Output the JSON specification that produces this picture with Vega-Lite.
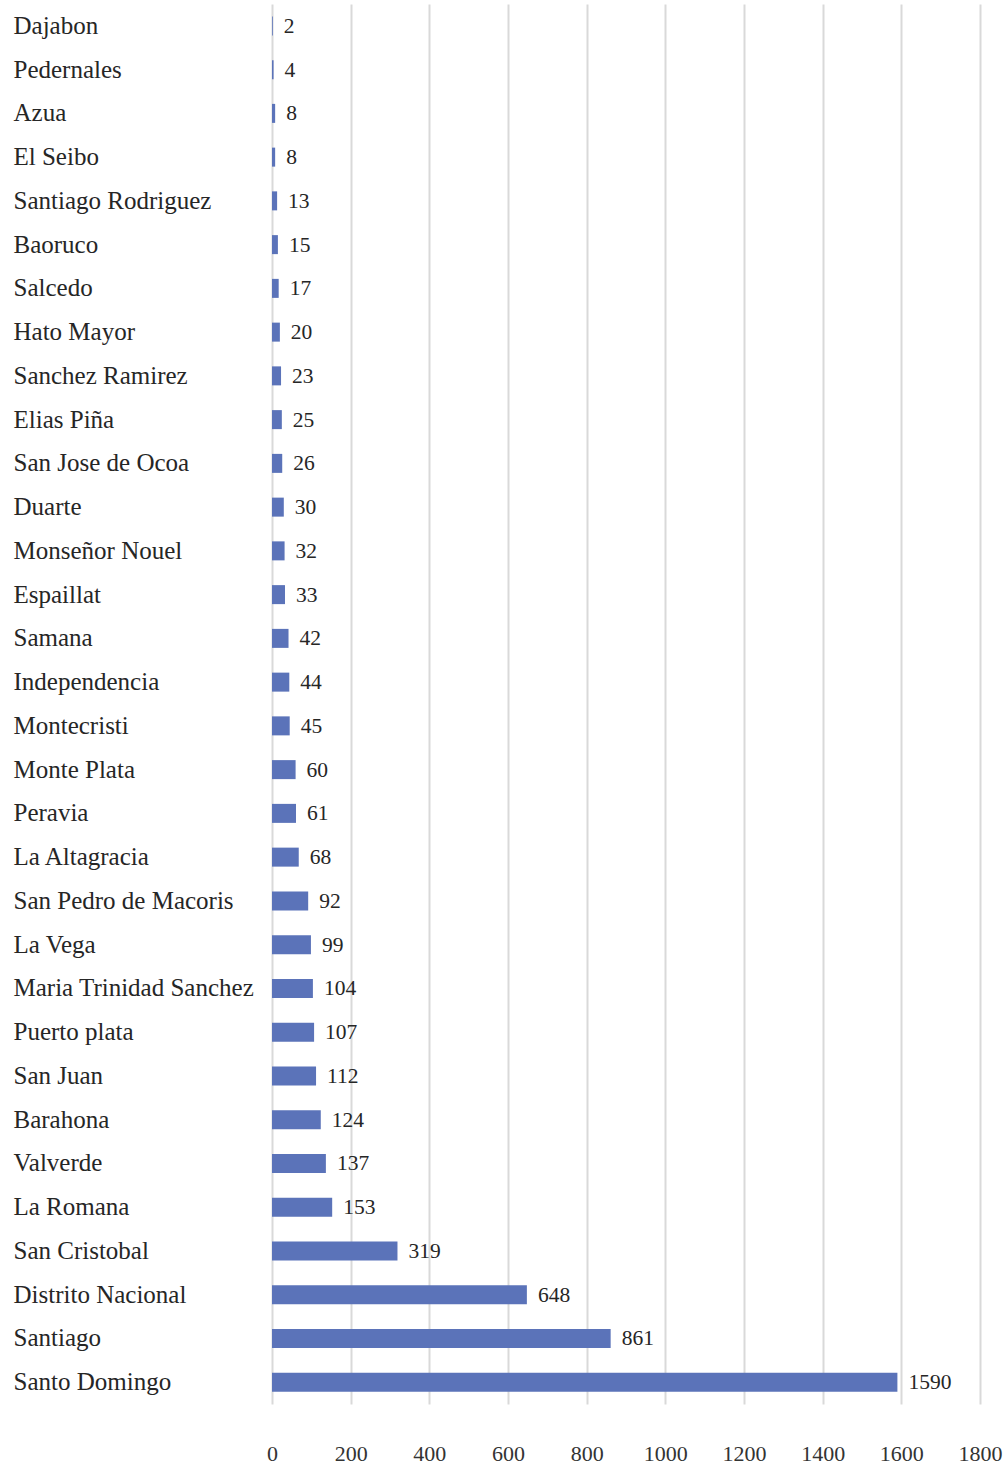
{
  "$schema": "https://vega.github.io/schema/vega-lite/v6.json",
  "autosize": {"type": "none"},
  "padding": {"left": 272, "top": 4, "right": 27, "bottom": 63},
  "width": 708,
  "height": 1400,
  "background": "white",
  "config": {
    "view": {"stroke": null},
    "font": "Liberation Serif"
  },
  "data": {
    "values": [
      {"province": "Dajabon", "count": 2},
      {"province": "Pedernales", "count": 4},
      {"province": "Azua", "count": 8},
      {"province": "El Seibo", "count": 8},
      {"province": "Santiago Rodriguez", "count": 13},
      {"province": "Baoruco", "count": 15},
      {"province": "Salcedo", "count": 17},
      {"province": "Hato Mayor", "count": 20},
      {"province": "Sanchez Ramirez", "count": 23},
      {"province": "Elias Piña", "count": 25},
      {"province": "San Jose de Ocoa", "count": 26},
      {"province": "Duarte", "count": 30},
      {"province": "Monseñor Nouel", "count": 32},
      {"province": "Espaillat", "count": 33},
      {"province": "Samana", "count": 42},
      {"province": "Independencia", "count": 44},
      {"province": "Montecristi", "count": 45},
      {"province": "Monte Plata", "count": 60},
      {"province": "Peravia", "count": 61},
      {"province": "La Altagracia", "count": 68},
      {"province": "San Pedro de Macoris", "count": 92},
      {"province": "La Vega", "count": 99},
      {"province": "Maria Trinidad Sanchez", "count": 104},
      {"province": "Puerto plata", "count": 107},
      {"province": "San Juan", "count": 112},
      {"province": "Barahona", "count": 124},
      {"province": "Valverde", "count": 137},
      {"province": "La Romana", "count": 153},
      {"province": "San Cristobal", "count": 319},
      {"province": "Distrito Nacional", "count": 648},
      {"province": "Santiago", "count": 861},
      {"province": "Santo Domingo", "count": 1590}
    ]
  },
  "encoding": {
    "y": {
      "field": "province",
      "type": "nominal",
      "sort": null,
      "scale": {"paddingInner": 0, "paddingOuter": 0},
      "axis": {
        "title": null,
        "domain": false,
        "ticks": false,
        "tickSize": 0,
        "grid": false,
        "labelAlign": "left",
        "labelPadding": 259,
        "labelLimit": 0,
        "labelFont": "Liberation Serif",
        "labelFontSize": 25,
        "labelColor": "#262626"
      }
    },
    "x": {
      "field": "count",
      "type": "quantitative",
      "scale": {"domain": [0, 1800], "nice": false},
      "axis": {
        "title": null,
        "values": [0, 200, 400, 600, 800, 1000, 1200, 1400, 1600, 1800],
        "format": "d",
        "domain": false,
        "ticks": false,
        "tickSize": 0,
        "grid": true,
        "gridColor": "#d9d9d9",
        "gridWidth": 2,
        "labelPadding": 39,
        "labelFont": "Liberation Serif",
        "labelFontSize": 22,
        "labelColor": "#333333",
        "labelFlush": false
      }
    }
  },
  "layer": [
    {
      "mark": {"type": "bar", "size": 19, "color": "#5b73b9"}
    },
    {
      "mark": {
        "type": "text",
        "align": "left",
        "baseline": "middle",
        "dx": 11,
        "dy": 1,
        "font": "Liberation Serif",
        "fontSize": 21.5,
        "color": "#262626"
      },
      "encoding": {"text": {"field": "count", "type": "quantitative"}}
    }
  ]
}
